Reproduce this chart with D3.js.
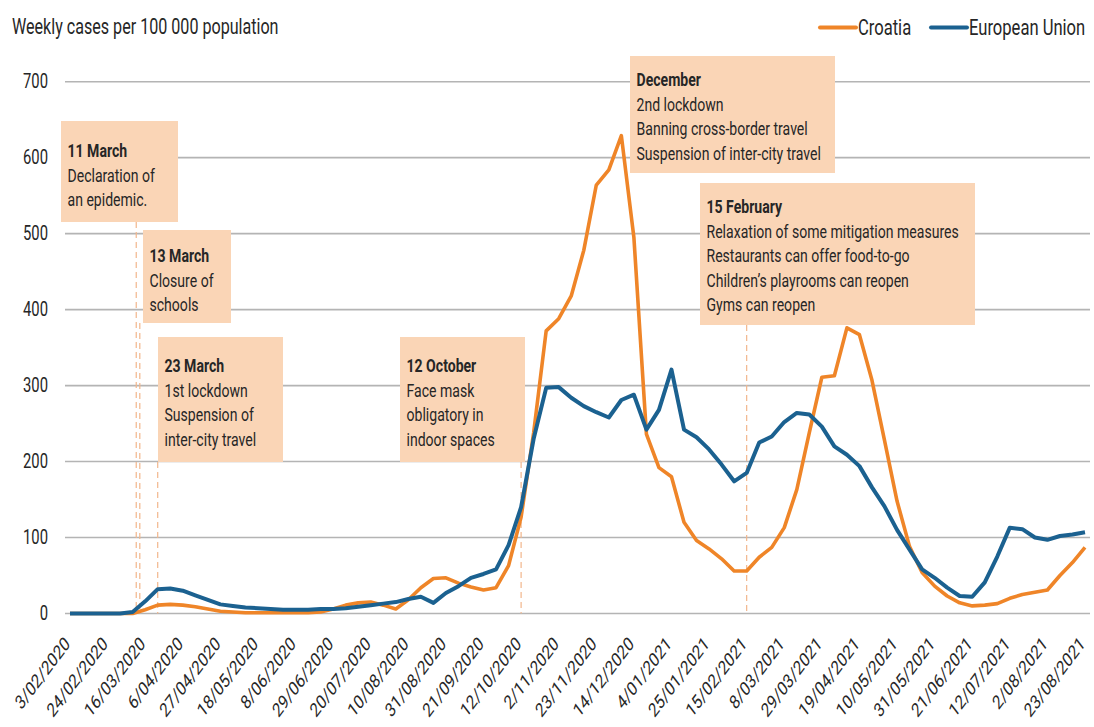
<!DOCTYPE html>
<html>
<head>
<meta charset="utf-8">
<script src="https://cdn.jsdelivr.net/npm/d3@7"></script>
<style>
  body { margin: 0; background: #fff; }
  text { font-family: Roboto, "Noto Sans", sans-serif; fill: #262626; }
</style>
</head>
<body>
<div id="chart"></div>
<script>
// weekly data, first week starting 3/02/2020
var firstWeek = "2020-02-03";

var croatia = [0, 0, 0, 0, 0, 0, 5, 11, 12, 11, 9, 6, 3, 2, 1, 1, 1, 1, 1, 1,
  2, 6, 11, 14, 15, 11, 6, 18, 34, 46, 47, 40, 35, 31, 34, 63, 127, 238, 372, 388,
  418, 478, 564, 584, 629, 495, 236, 192, 180, 120, 96, 85, 72, 56, 56, 74, 87, 113, 163, 238,
  311, 313, 376, 367, 307, 228, 148, 88, 54, 36, 23, 14, 10, 11, 13, 20, 25, 28, 31, 50,
  67, 87];

var eu = [0, 0, 0, 0, 0, 2, 16, 32, 33, 30, 24, 18, 12, 10, 8, 7, 6, 5, 5, 5,
  6, 6, 7, 9, 11, 13, 15, 19, 22, 14, 27, 36, 47, 52, 58, 90, 140, 230, 297, 298,
  284, 273, 265, 258, 281, 288, 242, 268, 321, 242, 232, 216, 196, 174, 185, 225, 233, 252, 264, 262,
  246, 220, 209, 194, 166, 141, 110, 84, 58, 47, 34, 23, 22, 41, 75, 113, 111, 100, 97, 102,
  104, 107];

var xTickLabels = ["3/02/2020", "24/02/2020", "16/03/2020", "6/04/2020", "27/04/2020", "18/05/2020",
  "8/06/2020", "29/06/2020", "20/07/2020", "10/08/2020", "31/08/2020", "21/09/2020", "12/10/2020",
  "2/11/2020", "23/11/2020", "14/12/2020", "4/01/2021", "25/01/2021", "15/02/2021", "8/03/2021",
  "29/03/2021", "19/04/2021", "10/05/2021", "31/05/2021", "21/06/2021", "12/07/2021", "2/08/2021",
  "23/08/2021"];

var yTicks = [0, 100, 200, 300, 400, 500, 600, 700];

var eventDates = ["2020-03-11", "2020-03-13", "2020-03-23", "2020-10-12", "2020-12-14", "2021-02-15"];
var eventTitles = ["11 March", "13 March", "23 March", "12 October", "December", "15 February"];
var eventTexts = [
  ["Declaration of", "an epidemic."],
  ["Closure of", "schools"],
  ["1st lockdown", "Suspension of", "inter-city travel"],
  ["Face mask", "obligatory in", "indoor spaces"],
  ["2nd lockdown", "Banning cross-border travel", "Suspension of inter-city travel"],
  ["Relaxation of some mitigation measures", "Restaurants can offer food-to-go", "Children\u2019s playrooms can reopen", "Gyms can reopen"]
];

// box layout for each note (left, top, width, height, first baseline) and whether a dashed marker is drawn
var boxLayout = [
  {x: 61, y: 121, w: 117, h: 101, ty: 36, dash: true},
  {x: 143, y: 230, w: 88, h: 93, ty: 32, dash: true},
  {x: 158, y: 337, w: 125, h: 125, ty: 35, dash: true},
  {x: 400, y: 337, w: 125, h: 125, ty: 35, dash: true},
  {x: 630, y: 56, w: 205, h: 117, ty: 30, dash: false},
  {x: 700, y: 183, w: 275, h: 142, ty: 30, dash: true}
];

var svgWidth = 1094;
var svgHeight = 727;
var orange = "#ef8528";
var blue = "#1b6190";
var squeeze = 0.76; // horizontal narrowing of all text

var svg = d3.select("#chart")
  .append("svg")
  .attr("width", svgWidth)
  .attr("height", svgHeight);

function addText(parent, tx, ty, size, str, extra) {
  return parent.append("text")
    .attr("transform", `translate(${tx}, ${ty}) scale(${squeeze}, 1)` + (extra || ""))
    .attr("font-size", size)
    .text(str);
}

var parse = d3.timeParse("%Y-%m-%d");
var parseTick = d3.timeParse("%d/%m/%Y");
var start = parse(firstWeek);
var weeks = croatia.map(function (d, i) { return d3.timeDay.offset(start, 7 * i); });

var x = d3.scaleTime()
  .domain([weeks[0], weeks[weeks.length - 1]])
  .range([70, 1085]);

var y = d3.scaleLinear()
  .domain([0, 700])
  .range([613.5, 81.7]);

// gridlines
svg.append("g")
  .selectAll("line")
  .data(yTicks)
  .enter()
  .append("line")
  .attr("x1", 65)
  .attr("x2", 1090)
  .attr("y1", d => y(d))
  .attr("y2", d => y(d))
  .attr("stroke", "#b4b4b4")
  .attr("stroke-width", 1.6);

// y labels
var yLabels = svg.append("g");
yTicks.forEach(function (t) {
  addText(yLabels, 48, y(t) + 6.5, 19.5, t).attr("text-anchor", "end");
});

// x axis labels
var xLabels = svg.append("g");
xTickLabels.forEach(function (t) {
  addText(xLabels, x(parseTick(t)) + 1, 645, 19.5, t, " rotate(-45)")
    .attr("text-anchor", "end");
});

// dashed event markers
boxLayout.forEach(function (b, i) {
  if (!b.dash) return;
  var ex = x(parse(eventDates[i]));
  svg.append("line")
    .attr("x1", ex)
    .attr("x2", ex)
    .attr("y1", b.y + b.h)
    .attr("y2", y(0))
    .attr("stroke", "#f2b68c")
    .attr("stroke-width", 1.2)
    .attr("stroke-dasharray", "6,4");
});

// event boxes
boxLayout.forEach(function (b, i) {
  var g = svg.append("g");
  g.append("rect")
    .attr("x", b.x)
    .attr("y", b.y)
    .attr("width", b.w)
    .attr("height", b.h)
    .attr("fill", "#fad5b6");
  addText(g, b.x + 6.5, b.y + b.ty, 18.5, eventTitles[i])
    .attr("font-weight", "bold")
    .attr("fill", "#1a1a1a");
  eventTexts[i].forEach(function (t, j) {
    addText(g, b.x + 6.5, b.y + b.ty + 24.5 * (j + 1), 18.5, t);
  });
});

// lines
var line = d3.line()
  .x((d, i) => x(weeks[i]))
  .y(d => y(d));

svg.append("path")
  .datum(croatia)
  .attr("d", line)
  .attr("fill", "none")
  .attr("stroke", orange)
  .attr("stroke-width", 3.6)
  .attr("stroke-linejoin", "round");

svg.append("path")
  .datum(eu)
  .attr("d", line)
  .attr("fill", "none")
  .attr("stroke", blue)
  .attr("stroke-width", 4)
  .attr("stroke-linejoin", "round");

// title
addText(svg, 12, 34, 21.2, "Weekly cases per 100 000 population")
  .attr("fill", "#333");

// legend
var legendItems = [
  {name: "Croatia", color: orange, x: 820},
  {name: "European Union", color: blue, x: 931}
];
legendItems.forEach(function (l) {
  svg.append("line")
    .attr("x1", l.x)
    .attr("x2", l.x + 36)
    .attr("y1", 27.5)
    .attr("y2", 27.5)
    .attr("stroke", l.color)
    .attr("stroke-width", 4)
    .attr("stroke-linecap", "round");
  addText(svg, l.x + 38, 35, 21.8, l.name);
});
</script>
</body>
</html>
